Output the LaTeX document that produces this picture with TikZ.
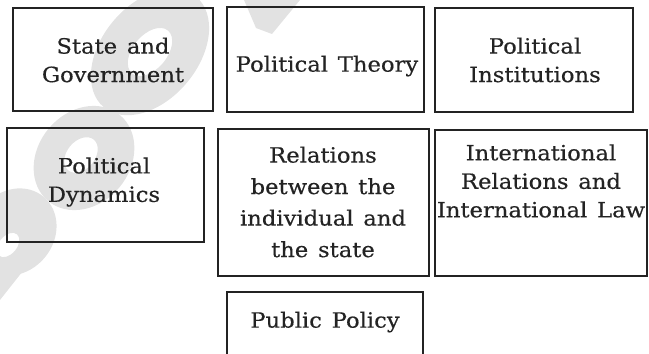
\documentclass[tikz,border=0pt]{standalone}
\usepackage{fontspec}
\setmainfont[FakeStretch=1.08,FakeBold=0.4,WordSpace=1.35]{DejaVu Serif}
\definecolor{ink}{HTML}{232323}
\definecolor{wm}{HTML}{E2E2E2}
\tikzset{
  x=1pt, y=-1pt,
  frame/.style={draw=ink, line width=2.2pt, inner sep=0pt},
  lbl/.style={align=center, inner sep=0pt, text=ink, font=\fontsize{21}{28.5}\selectfont},
  wmark/.style={fill=wm, draw=none, even odd rule}
}
\begin{document}
\begin{tikzpicture}
\useasboundingbox (0,0) rectangle (649,354);
% faint background mark
\fill[wmark] (150,52) ellipse[x radius=72, y radius=48, rotate=50]
             (150,52) ellipse[x radius=28, y radius=17, rotate=50];
\fill[wmark] (84,158) ellipse[x radius=56, y radius=46, rotate=50]
             (81,155) ellipse[x radius=20, y radius=14, rotate=50];
\fill[wmark] (14,232) ellipse[x radius=46, y radius=40, rotate=50]
             (8,245) ellipse[x radius=14, y radius=9, rotate=50];
\fill[wm] (30,262) -- (0,300) -- (0,260) -- cycle;
\fill[wm] (244,0) -- (300,0) -- (272,34) -- (256,28) -- cycle;
% boxes
\node[frame, minimum width=200, minimum height=103] (b1) at (113,59.5) {};
\node[frame, minimum width=197, minimum height=105] (b2) at (325.5,59.5) {};
\node[frame, minimum width=198, minimum height=104] (b3) at (534,60) {};
\node[frame, minimum width=197, minimum height=114] (b4) at (105.5,185) {};
\node[frame, minimum width=211, minimum height=147] (b5) at (323.5,202.5) {};
\node[frame, minimum width=212, minimum height=146] (b6) at (541,203) {};
\coordinate (b7sw) at (227,354);
\coordinate (b7nw) at (227,292);
\coordinate (b7ne) at (423,292);
\coordinate (b7se) at (423,354);
\draw[draw=ink, line width=2.2pt] (b7sw) -- (b7nw) -- (b7ne) -- (b7se);
% labels
\node[lbl] (t1) at (113,60) {State and\\Government};
\node[lbl] (t2) at (327,66) {Political Theory};
\node[lbl] (t3) at (535,60) {Political\\Institutions};
\node[lbl] (t4) at (104,182) {Political\\Dynamics};
\node[lbl, font=\fontsize{21}{31.5}\selectfont] (t5) at (323,202) {Relations\\between the\\individual and\\the state};
\node[lbl] (t6) at (541,181) {International\\Relations and\\International Law};
\node[lbl] (t7) at (325,322) {Public Policy};
\end{tikzpicture}
\end{document}
